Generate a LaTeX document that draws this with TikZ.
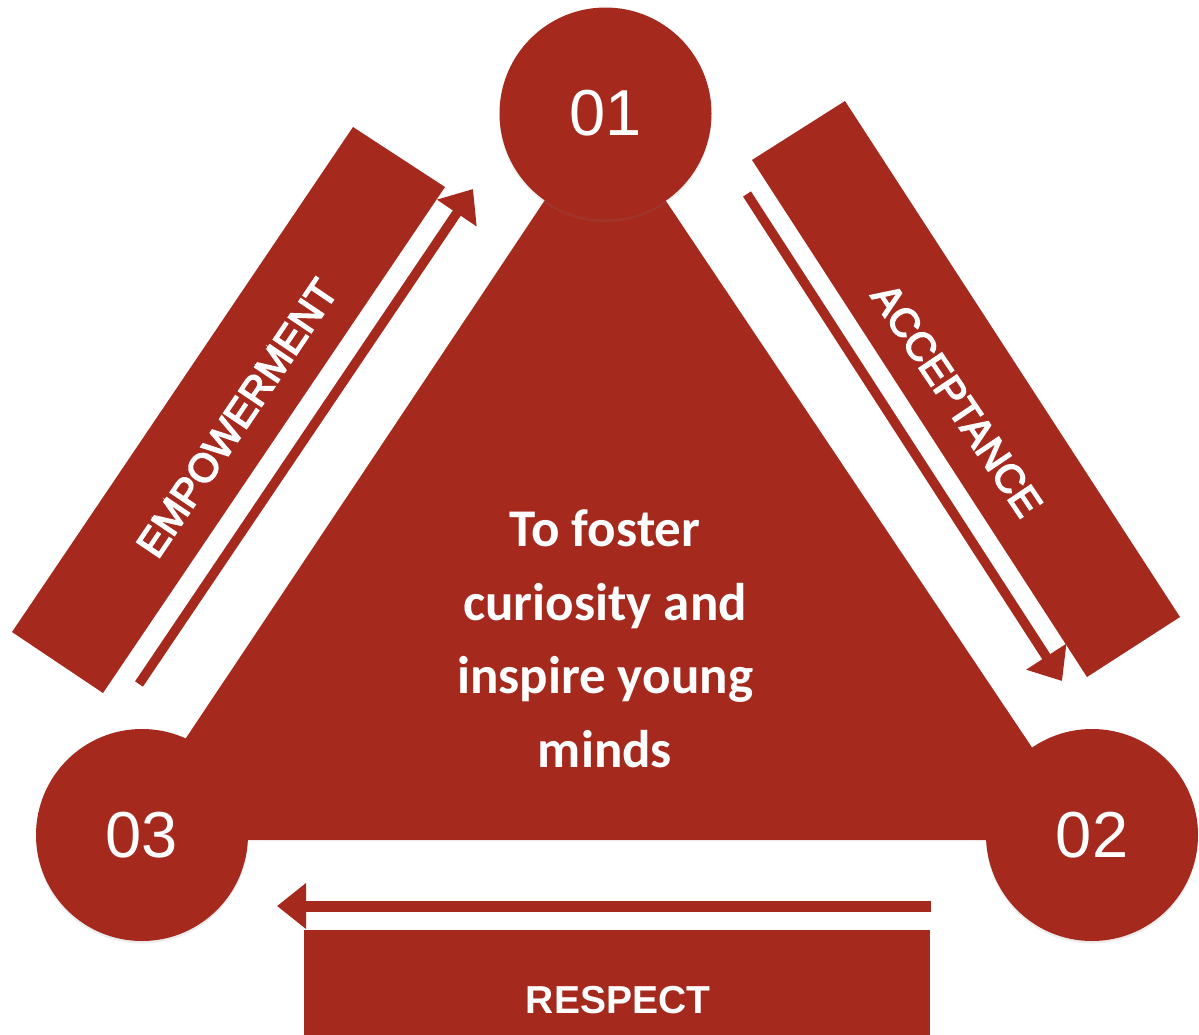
\documentclass[tikz,border=0pt]{standalone}
\usepackage{fontspec}
\setmainfont{Liberation Sans}
\newfontfamily\carlito{Carlito}
\newfontfamily\medfont[FakeBold=4]{Liberation Sans}
\usetikzlibrary{arrows.meta,shadows}
\definecolor{brick}{RGB}{166,41,30}
\begin{document}
\begin{tikzpicture}[x=1pt,y=-1pt,
  block/.style={fill=brick,draw=none},
  numcircle/.style={circle,fill=brick,minimum size=212pt,inner sep=0pt,text=white,
    font=\fontsize{65}{78}\selectfont,
    drop shadow={opacity=0.15,shadow xshift=0pt,shadow yshift=-2.5pt}},
  flow/.style={draw=brick,line width=9.5pt,-{Triangle[length=29pt,width=46pt]}},
  bandtext/.style={text=white,inner sep=0pt,font=\medfont\fontsize{40}{48}\selectfont},
  centertext/.style={text=white,align=center,inner sep=0pt,
    font=\carlito\bfseries\fontsize{53}{73.5}\selectfont}]
\useasboundingbox (0,0) rectangle (1199,1034);
\clip (0,0) rectangle (1199,1034);
% triangle
\coordinate (tA) at (605,110);
\coordinate (tB) at (118,840);
\coordinate (tC) at (1094,840);
\fill[block] (tA) -- (tB) -- (tC) -- cycle;
% bands
\coordinate (e1) at (353,127); \coordinate (e2) at (445,187);
\coordinate (e3) at (103,693); \coordinate (e4) at (12,632);
\fill[block] (e1) -- (e2) -- (e3) -- (e4) -- cycle;
\coordinate (a1) at (752,160); \coordinate (a2) at (845,101);
\coordinate (a3) at (1180,617); \coordinate (a4) at (1087,677);
\fill[block] (a1) -- (a2) -- (a3) -- (a4) -- cycle;
\coordinate (r1) at (304,930); \coordinate (r2) at (930,1044);
\fill[block] (r1) rectangle (r2);
% arrows
\coordinate (ft) at (139,684); \coordinate (fh) at (473,189);
\draw[flow] (ft) -- (fh);
\coordinate (gt) at (747,194); \coordinate (gh) at (1062,681);
\draw[flow] (gt) -- (gh);
\coordinate (ht) at (931,906); \coordinate (hh) at (277,906);
\draw[flow,line width=11pt,-{Triangle[length=29pt,width=44pt]}] (ht) -- (hh);
% band texts
\node[bandtext,rotate=56] (emp) at (237,418) {EMPOWERMENT};
\node[bandtext,rotate=-56] (acc) at (957,400) {ACCEPTANCE};
\node[bandtext,anchor=base,font=\bfseries\fontsize{39}{47}\selectfont] (res) at (618,1013) {RESPECT};
% center text
\node[centertext] (ctr) at (605,639) {To foster\\curiosity and\\inspire young\\minds};
% circles
\node[numcircle] (c1) at (605.5,113.5) {01};
\node[numcircle] (c2) at (1092,835) {02};
\node[numcircle] (c3) at (142,835) {03};
\end{tikzpicture}
\end{document}
